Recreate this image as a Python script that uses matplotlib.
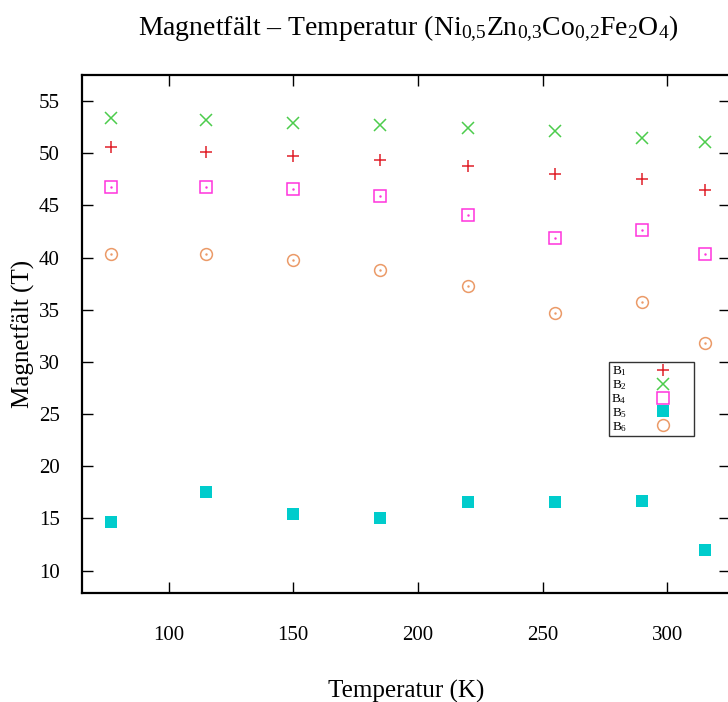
import matplotlib
matplotlib.use('Agg')
import matplotlib.pyplot as plt

plt.rcParams['font.family'] = 'Liberation Serif'
plt.rcParams['mathtext.fontset'] = 'custom'
plt.rcParams['mathtext.rm'] = 'Liberation Serif'
plt.rcParams['mathtext.it'] = 'Liberation Serif:italic'

# Temperatur (K)
temp = [77, 115, 150, 185, 220, 255, 290, 315]

# Magnetfält (T)
b1 = [50.6, 50.1, 49.7, 49.4, 48.8, 48.0, 47.5, 46.5]
b2 = [53.4, 53.2, 52.9, 52.7, 52.4, 52.1, 51.5, 51.1]
b4 = [46.8, 46.8, 46.6, 45.9, 44.1, 41.9, 42.6, 40.3]
b5 = [14.7, 17.5, 15.4, 15.0, 16.6, 16.6, 16.7, 12.0]
b6 = [40.3, 40.3, 39.8, 38.8, 37.3, 34.7, 35.7, 31.8]

xticks = [100, 150, 200, 250, 300]
yticks = [10, 15, 20, 25, 30, 35, 40, 45, 50, 55]

fig = plt.figure(figsize=(7.28, 7.02), dpi=100)
ax = fig.add_axes([82/728, 1-593/702, 648/728, 518/702])

ax.plot(temp, b1, ls='none', marker='+', ms=9, mew=1.1, color='#e0202a', label='B$_1$')
ax.plot(temp, b2, ls='none', marker='x', ms=8, mew=1.1, color='#4ccc4c', label='B$_2$')
ax.plot(temp, b4, ls='none', marker='s', ms=8, mew=1.1, mfc='none', color='#ff33dd', label='B$_4$')
ax.plot(temp, b5, ls='none', marker='s', ms=9, mew=0, color='#00cccc', label='B$_5$')
ax.plot(temp, b6, ls='none', marker='o', ms=8.5, mew=1.1, mfc='none', color='#eb9a68', label='B$_6$')
# small centre dots of the open symbols
ax.plot(temp, b4, ls='none', marker='.', ms=1.5, color='#ff33dd')
ax.plot(temp, b6, ls='none', marker='.', ms=1.5, color='#eb9a68')

ax.set_xlim(65.3, 325.2)
ax.set_ylim(7.85, 57.5)
ax.set_xticks(xticks)
ax.set_yticks(yticks)
ax.tick_params(direction='in', top=True, right=True, length=8, width=1,
               labelsize=15)
ax.tick_params(axis='x', pad=24)
ax.tick_params(axis='y', pad=16)
for s in ax.spines.values():
    s.set_linewidth(1.6)

ax.set_xlabel('Temperatur (K)', fontsize=18, labelpad=25)
ax.set_ylabel('Magnetfält (T)', fontsize=18, labelpad=3)
fig.text(408/728, 1-29/702,
         r'Magnetfält – Temperatur (Ni$_{0{,}5}$Zn$_{0{,}3}$Co$_{0{,}2}$Fe$_2$O$_4$)',
         ha='center', va='center', fontsize=20)

leg = ax.legend(loc='upper left', bbox_to_anchor=(0.813, 0.446), fontsize=9.5,
                markerfirst=False, frameon=True, fancybox=False,
                handlelength=4.4, handletextpad=0.5, labelspacing=0.0,
                borderpad=0.2, borderaxespad=0)
leg.get_frame().set_edgecolor('black')
leg.get_frame().set_linewidth(1.0)

fig.savefig('out.png', dpi=100)
